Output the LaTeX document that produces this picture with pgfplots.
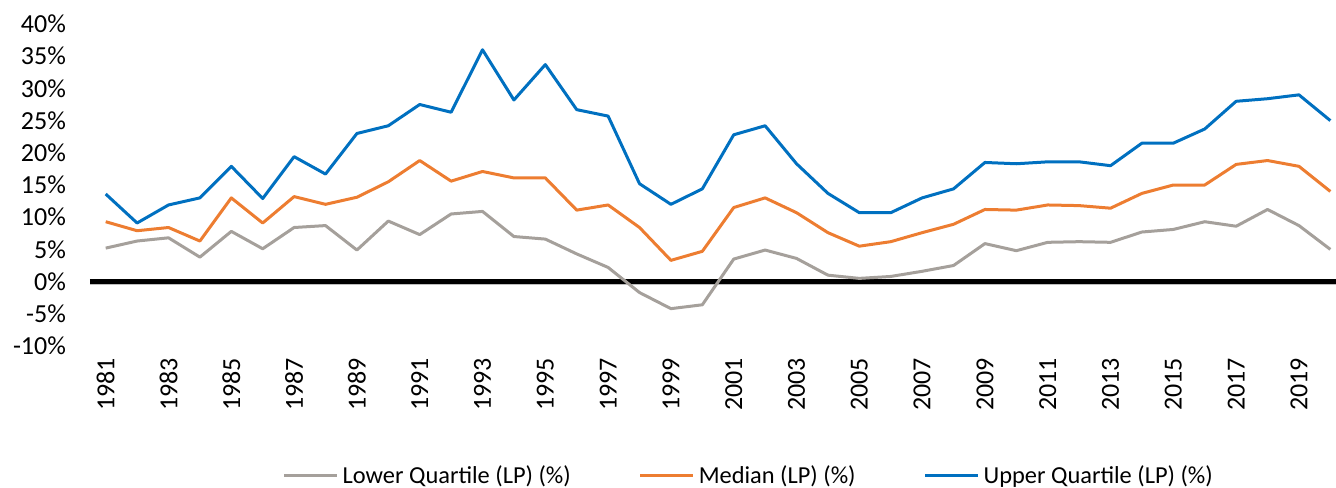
\documentclass[border=0pt]{standalone}
\usepackage{fontspec}
\setmainfont{Carlito}
\usepackage{pgfplots}
\pgfplotsset{compat=1.18}
\definecolor{lq}{RGB}{165,160,155}
\definecolor{md}{RGB}{237,125,49}
\definecolor{uq}{RGB}{0,112,192}
\definecolor{axg}{RGB}{190,190,190}

\begin{document}
\begin{tikzpicture}
\begin{axis}[
  at={(0pt,0pt)}, anchor=south west,
  scale only axis, width=623pt, height=161pt,
  xmin=1980.5, xmax=2020.18, ymin=-10, ymax=40,
  axis line style={draw=none},
  major tick length=0pt,
  xtick={1981,1983,...,2019},
  xticklabels={1981,1983,1985,1987,1989,1991,1993,1995,1997,1999,2001,2003,2005,2007,2009,2011,2013,2015,2017,2019},
  ytick={-10,-5,0,5,10,15,20,25,30,35,40},
  yticklabels={-10\%,-5\%,0\%,5\%,10\%,15\%,20\%,25\%,30\%,35\%,40\%},
  tick label style={font=\fontsize{13}{15}\selectfont},
  xticklabel style={rotate=90, anchor=east},
  xticklabel shift=2.5pt,
  yticklabel shift=8.5pt,
  legend columns=3,
  legend style={at={(rel axis cs:0.5295,-0.4030)}, anchor=center, draw=none, fill=none,
    font=\fontsize{12.2}{14}\selectfont,
    /tikz/every even column/.append style={column sep=32pt}},
  legend image code/.code={\draw[#1] (0pt,0pt) -- (26.5pt,0pt);},
  line join=round,
]
\addplot[axg, line width=0.6pt, forget plot] coordinates {(1980.5,-0.45) (2020.18,-0.45)};
\addplot[black, line width=2.6pt, forget plot] coordinates {(1980.5,0) (2020.18,0)};

\addplot[lq, line width=1.5pt] coordinates {
(1981,5.2)(1982,6.3)(1983,6.8)(1984,3.8)(1985,7.8)(1986,5.1)(1987,8.4)(1988,8.7)(1989,4.9)(1990,9.4)
(1991,7.3)(1992,10.5)(1993,10.9)(1994,7.0)(1995,6.6)(1996,4.3)(1997,2.2)(1998,-1.7)(1999,-4.2)(2000,-3.6)
(2001,3.5)(2002,4.9)(2003,3.6)(2004,1.0)(2005,0.5)(2006,0.8)(2007,1.6)(2008,2.5)(2009,5.9)(2010,4.8)
(2011,6.1)(2012,6.2)(2013,6.1)(2014,7.7)(2015,8.1)(2016,9.3)(2017,8.6)(2018,11.2)(2019,8.7)(2020,5.0)};
\addlegendentry{Lower Quartile (LP) (\%)}

\addplot[md, line width=1.5pt] coordinates {
(1981,9.3)(1982,7.9)(1983,8.4)(1984,6.3)(1985,13.0)(1986,9.1)(1987,13.2)(1988,12.0)(1989,13.1)(1990,15.5)
(1991,18.8)(1992,15.6)(1993,17.1)(1994,16.1)(1995,16.1)(1996,11.1)(1997,11.9)(1998,8.4)(1999,3.3)(2000,4.7)
(2001,11.5)(2002,13.0)(2003,10.7)(2004,7.6)(2005,5.5)(2006,6.2)(2007,7.6)(2008,8.9)(2009,11.2)(2010,11.1)
(2011,11.9)(2012,11.8)(2013,11.4)(2014,13.7)(2015,15.0)(2016,15.0)(2017,18.2)(2018,18.8)(2019,17.9)(2020,14.0)};
\addlegendentry{Median (LP) (\%)}

\addplot[uq, line width=1.5pt] coordinates {
(1981,13.6)(1982,9.1)(1983,11.9)(1984,13.0)(1985,17.9)(1986,12.9)(1987,19.4)(1988,16.7)(1989,23.0)(1990,24.2)
(1991,27.5)(1992,26.3)(1993,36.0)(1994,28.2)(1995,33.7)(1996,26.7)(1997,25.7)(1998,15.2)(1999,12.0)(2000,14.4)
(2001,22.8)(2002,24.2)(2003,18.3)(2004,13.7)(2005,10.7)(2006,10.7)(2007,13.0)(2008,14.4)(2009,18.5)(2010,18.3)
(2011,18.6)(2012,18.6)(2013,18.0)(2014,21.5)(2015,21.5)(2016,23.7)(2017,28.0)(2018,28.4)(2019,29.0)(2020,25.0)};
\addlegendentry{Upper Quartile (LP) (\%)}
\end{axis}
\pgfresetboundingbox
\useasboundingbox (-45pt,-70.5pt) rectangle (623pt,173pt);
\end{tikzpicture}
\end{document}
